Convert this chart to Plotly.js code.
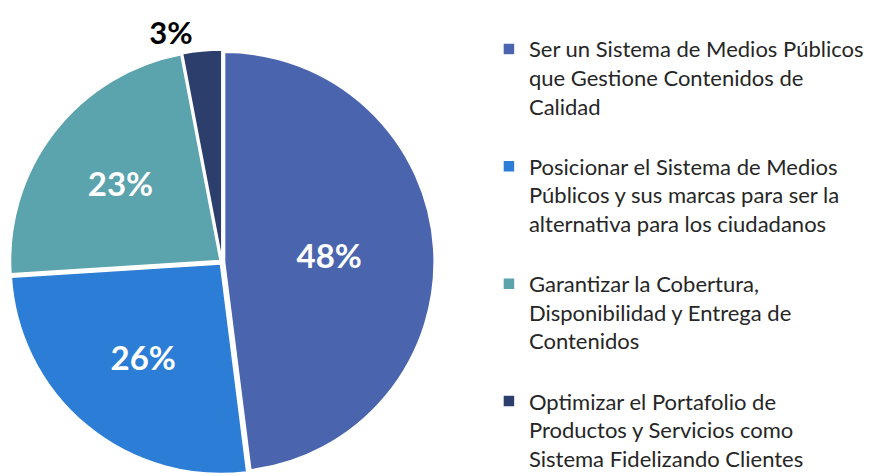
<!DOCTYPE html>
<html>
<head>
<meta charset="utf-8">
<script src="https://cdn.plot.ly/plotly-3.0.1.min.js"></script>
<style>
  html, body { margin: 0; padding: 0; background: #fff; }
  #chart { width: 870px; height: 476px; }
</style>
</head>
<body>
<div id="chart"></div>
<script>
const labels = [
    'Ser un Sistema de Medios Públicos<br>que Gestione Contenidos de<br>Calidad<br> ',
    'Posicionar el Sistema de Medios<br>Públicos y sus marcas para ser la<br>alternativa para los ciudadanos<br> ',
    'Garantizar la Cobertura,<br>Disponibilidad y Entrega de<br>Contenidos<br> ',
    'Optimizar el Portafolio de<br>Productos y Servicios como<br>Sistema Fidelizando Clientes'
];
const values = [48, 26, 23, 3];
const colors = ['#4A65AD', '#2B7DD5', '#5BA3AD', '#2C3E6B'];

Plotly.newPlot('chart', [{
    type: 'pie',
    labels: labels,
    values: values,
    sort: false,
    direction: 'clockwise',
    rotation: 0,
    pull: [0.012, 0.012, 0.012, 0.012],
    marker: { colors: colors, line: { color: '#fff', width: 1.5 } },
    textinfo: 'percent',
    textposition: ['inside', 'inside', 'inside', 'outside'],
    insidetextorientation: 'horizontal',
    insidetextfont: { family: 'Lato', size: 33, color: '#fff', weight: 'bold' },
    outsidetextfont: { family: 'Lato', size: 31, color: '#000', weight: 'bold' },
    domain: { x: [0.0115, 0.499], y: [0.003, 0.896] },
    hoverinfo: 'none'
}], {
    width: 870,
    height: 476,
    margin: { l: 0, r: 0, t: 0, b: 0, autoexpand: false },
    paper_bgcolor: '#fff',
    showlegend: true,
    legend: {
        x: 0.562, y: 0.941, xanchor: 'left', yanchor: 'top',
        valign: 'top',
        font: { family: 'Lato', size: 22, color: '#262626' },
        itemwidth: 30
    }
}, { displayModeBar: false, staticPlot: true });
</script>
</body>
</html>
